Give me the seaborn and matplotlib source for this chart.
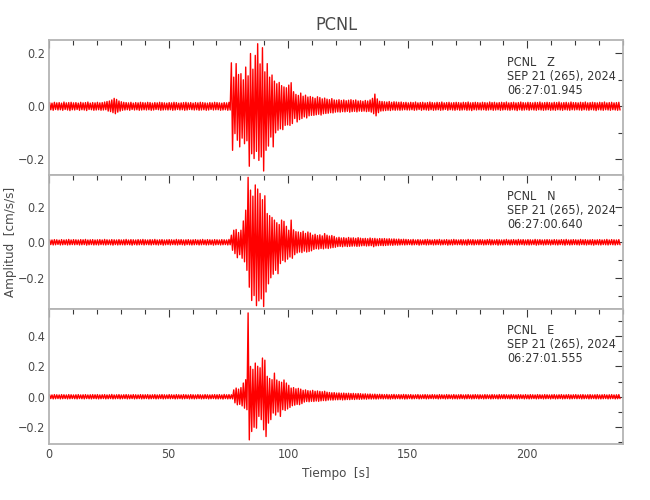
import numpy as np
import pandas as pd
import matplotlib
matplotlib.use("Agg")
import matplotlib.pyplot as plt
import seaborn as sns
from matplotlib.ticker import MultipleLocator, FuncFormatter

# ---------------- data (amplitude envelope per 1-s bin, units of 0.001 cm/s/s) -------------
# Z component
z_up = [14,12,15,13,14,12,16,13,14,15,
        13,14,12,15,13,14,16,12,14,13,
        15,13,14,16,18,20,24,30,26,20,
        17,15,14,13,15,12,14,13,15,14,
        13,15,14,12,14,13,15,14,13,12,
        14,13,15,14,12,13,14,15,13,14,
        12,14,13,15,14,13,12,14,13,15,
        14,13,12,14,13,15,164,110,161,120,
        123,100,148,115,199,140,192,236,160,221,
        130,161,110,118,95,85,90,78,73,70,
        80,89,55,45,41,50,38,42,35,37,
        34,30,36,33,28,31,27,25,29,24,
        23,25,22,24,21,23,25,22,24,20,
        21,19,22,20,24,30,46,28,19,18,
        17,16,18,15,17,16,15,16,14,15,
        13,15,14,16,13,14,15,13,14,16,
        14,13,15,14,16,13,14,15,13,14,
        15,14,13,15,14,16,13,14,15,14,
        13,15,14,13,16,14,15,13,14,15,
        14,16,13,14,15,13,14,16,14,13,
        15,14,13,15,14,16,13,14,15,14,
        13,15,14,16,13,14,15,13,16,14,
        14,13,15,14,16,13,14,15,14,13,
        15,14,16,13,14,15,13,14,15]
z_dn = [-13,-15,-12,-14,-13,-15,-12,-14,-16,-13,
        -14,-12,-15,-13,-14,-16,-12,-13,-15,-14,
        -13,-15,-14,-13,-18,-20,-24,-28,-22,-18,
        -15,-14,-13,-15,-12,-14,-13,-15,-14,-13,
        -14,-13,-15,-14,-12,-13,-15,-14,-13,-14,
        -13,-15,-14,-12,-14,-13,-15,-14,-12,-13,
        -14,-13,-15,-14,-13,-15,-14,-12,-14,-13,
        -13,-15,-14,-13,-15,-14,-166,-103,-128,-153,
        -120,-141,-130,-226,-179,-197,-170,-204,-191,-244,
        -166,-150,-116,-153,-100,-90,-85,-88,-72,-70,
        -72,-65,-46,-59,-50,-46,-40,-44,-36,-34,
        -34,-32,-30,-33,-28,-27,-26,-24,-25,-22,
        -21,-22,-20,-21,-19,-22,-20,-19,-21,-18,
        -19,-18,-20,-19,-22,-28,-36,-24,-18,-17,
        -16,-15,-16,-14,-15,-14,-15,-14,-13,-14,
        -14,-13,-15,-14,-12,-15,-13,-14,-15,-13,
        -15,-14,-13,-15,-14,-12,-15,-13,-14,-15,
        -13,-15,-14,-13,-15,-14,-16,-13,-14,-13,
        -14,-13,-15,-14,-13,-15,-14,-13,-15,-14,
        -13,-14,-15,-13,-14,-16,-13,-15,-14,-13,
        -15,-13,-14,-15,-13,-14,-15,-14,-13,-15,
        -14,-15,-13,-14,-15,-13,-14,-15,-13,-14,
        -13,-14,-15,-13,-14,-15,-13,-14,-16,-13,
        -14,-15,-13,-14,-15,-13,-14,-15,-14]

# N component
n_up = [14,13,15,14,12,15,13,14,16,13,
        15,14,13,15,14,16,13,14,15,13,
        14,15,13,16,14,13,15,14,13,15,
        13,14,16,13,15,14,13,15,14,16,
        14,13,15,14,16,13,14,15,13,14,
        15,14,13,16,14,15,13,14,15,13,
        14,15,13,14,16,13,15,14,13,15,
        14,13,15,14,13,16,40,68,72,55,
        68,120,181,366,294,260,323,300,275,240,
        262,162,150,140,125,110,100,125,118,90,
        68,125,70,60,58,55,62,50,58,52,
        40,45,38,42,36,49,40,35,38,33,
        25,28,24,26,23,27,24,25,22,26,
        23,21,22,20,24,21,22,19,21,20,
        21,19,20,18,19,17,18,16,17,16,
        15,14,16,13,15,14,13,15,16,14,
        13,15,14,16,13,14,15,13,14,16,
        14,13,15,14,13,16,14,15,13,14,
        15,14,13,15,16,14,13,15,14,13,
        14,16,13,14,15,13,16,14,15,13,
        15,14,13,16,14,15,13,14,15,14,
        13,15,14,13,15,14,16,13,14,15,
        14,13,16,14,15,13,14,15,13,14,
        15,13,14,16,13,15,14,13,15]
n_dn = [-13,-15,-14,-12,-15,-14,-13,-15,-14,-13,
        -14,-13,-15,-14,-13,-16,-14,-13,-15,-14,
        -15,-13,-14,-15,-13,-14,-16,-13,-15,-14,
        -14,-15,-13,-14,-16,-13,-15,-14,-13,-15,
        -13,-14,-15,-13,-14,-15,-13,-16,-14,-13,
        -15,-13,-14,-15,-13,-14,-16,-13,-14,-15,
        -14,-13,-15,-14,-13,-15,-14,-13,-16,-14,
        -13,-15,-14,-13,-15,-14,-45,-64,-87,-70,
        -90,-110,-158,-253,-328,-300,-357,-330,-319,-362,
        -280,-234,-200,-180,-158,-177,-120,-102,-110,-95,
        -83,-90,-70,-60,-55,-58,-50,-55,-52,-48,
        -40,-36,-38,-35,-37,-33,-35,-32,-30,-28,
        -24,-23,-25,-22,-24,-23,-22,-21,-23,-22,
        -20,-19,-21,-20,-19,-25,-20,-19,-18,-19,
        -18,-17,-16,-17,-15,-16,-15,-14,-15,-14,
        -13,-15,-14,-13,-16,-14,-13,-15,-14,-13,
        -15,-14,-13,-15,-14,-13,-16,-14,-15,-13,
        -14,-13,-15,-14,-16,-13,-14,-15,-13,-14,
        -13,-15,-14,-13,-15,-14,-13,-16,-14,-15,
        -14,-13,-15,-14,-13,-15,-14,-13,-15,-14,
        -15,-14,-13,-16,-14,-13,-15,-14,-13,-15,
        -13,-14,-15,-13,-14,-16,-13,-15,-14,-13,
        -14,-15,-13,-14,-15,-13,-14,-16,-13,-14,
        -15,-13,-14,-15,-13,-14,-15,-13,-14]

# E component
e_up = [13,12,14,13,12,14,13,12,14,13,
        12,13,14,12,13,14,12,13,14,13,
        14,12,13,14,12,13,15,12,13,14,
        12,13,14,13,12,14,13,12,14,13,
        13,14,12,13,14,12,13,14,13,12,
        14,13,12,14,13,12,14,13,12,14,
        13,12,14,13,12,14,13,12,13,14,
        13,14,12,15,13,14,13,45,57,50,
        60,90,112,550,199,180,221,200,190,254,
        240,134,120,112,155,110,101,95,110,90,
        75,57,60,52,55,50,42,45,40,38,
        42,36,38,35,33,36,30,28,26,27,
        24,25,23,24,22,23,21,22,20,21,
        20,18,19,17,18,16,17,15,16,15,
        14,15,13,14,15,13,14,13,15,14,
        13,14,12,13,14,12,13,14,13,12,
        14,13,12,14,13,12,14,13,12,14,
        12,13,14,12,13,14,12,13,14,13,
        13,12,14,13,12,14,13,12,14,13,
        14,13,12,14,13,12,14,13,12,14,
        12,14,13,12,14,13,12,14,13,12,
        13,14,12,13,14,12,13,14,12,13,
        14,12,13,14,12,13,14,12,13,14,
        12,13,14,12,13,14,12,13,14]
e_dn = [-12,-14,-13,-12,-14,-13,-12,-14,-13,-12,
        -13,-14,-12,-13,-14,-12,-13,-14,-12,-13,
        -14,-13,-12,-14,-13,-12,-14,-13,-12,-14,
        -13,-12,-14,-13,-12,-14,-13,-12,-14,-13,
        -12,-14,-13,-12,-14,-13,-12,-14,-13,-12,
        -13,-12,-14,-13,-12,-14,-13,-12,-14,-13,
        -14,-13,-12,-14,-13,-12,-14,-13,-12,-14,
        -14,-13,-15,-12,-14,-13,-14,-40,-53,-50,
        -60,-75,-85,-283,-228,-200,-206,-129,-150,-217,
        -261,-173,-150,-107,-120,-100,-129,-85,-90,-80,
        -70,-59,-55,-50,-52,-45,-35,-31,-33,-30,
        -31,-28,-30,-27,-25,-26,-22,-21,-22,-20,
        -20,-19,-21,-20,-18,-19,-17,-18,-16,-17,
        -16,-15,-16,-14,-15,-14,-15,-14,-13,-14,
        -13,-14,-15,-13,-14,-12,-14,-13,-15,-14,
        -12,-14,-13,-12,-14,-13,-12,-14,-13,-12,
        -13,-12,-14,-13,-12,-14,-13,-12,-14,-13,
        -14,-13,-12,-14,-13,-12,-14,-13,-12,-14,
        -12,-14,-13,-12,-14,-13,-12,-14,-13,-12,
        -13,-12,-14,-13,-12,-14,-13,-12,-14,-13,
        -14,-13,-12,-14,-13,-12,-14,-13,-12,-14,
        -12,-14,-13,-12,-14,-13,-12,-14,-13,-12,
        -13,-12,-14,-13,-12,-14,-13,-12,-14,-13,
        -14,-13,-12,-14,-13,-12,-14,-13,-12]

components = ["Z", "N", "E"]
start_times = ["06:27:01.945", "06:27:00.640", "06:27:01.555"]
station = "PCNL"
date_text = "SEP 21 (265), 2024"
y_limits = [(-0.259, 0.250), (-0.373, 0.379), (-0.310, 0.579)]
y_major = [[-0.2, 0.0, 0.2], [-0.2, 0.0, 0.2], [-0.2, 0.0, 0.2, 0.4]]
x_ticks = [0, 50, 100, 150, 200]
x_limits = (0, 240)

# ---------------- build long table ----------------
frames = []
for comp, up, dn in zip(components, [z_up, n_up, e_up], [z_dn, n_dn, e_dn]):
    assert len(up) == len(dn)
    t = []
    a = []
    for i, (u, d) in enumerate(zip(up, dn)):
        t += [i + 0.25, i + 0.75]
        a += [u / 1000.0, d / 1000.0]
    frames.append(pd.DataFrame({"t": t, "amp": a, "comp": comp}))
df = pd.concat(frames, ignore_index=True)

# ---------------- plot ----------------
sns.set_style("white")
plt.rcParams["font.family"] = ["DejaVu Sans"]
plt.rcParams["font.stretch"] = "condensed"
plt.rcParams["axes.unicode_minus"] = True

txt_color = "#4a4a4a"
spine_color = "#b4b4b4"
tick_color = "#3a3a3a"

yfmt = FuncFormatter(lambda v, pos: f"{v:.1f}".replace("-", "\u2212"))

fig = plt.figure(figsize=(6.5, 5.0), dpi=100)
left, right = 49 / 650, 623 / 650
edges = [40, 175, 308.5, 444]
axes = []
for k in range(3):
    top = 1 - edges[k] / 500
    bot = 1 - edges[k + 1] / 500
    ax = fig.add_axes([left, bot, right - left, top - bot])
    axes.append(ax)

for k, (ax, comp) in enumerate(zip(axes, components)):
    sub = df[df["comp"] == comp]
    sns.lineplot(data=sub, x="t", y="amp", ax=ax, color="#ff0000", lw=1.0,
                 estimator=None, sort=False, legend=False)
    ax.set_xlim(*x_limits)
    ax.set_ylim(*y_limits[k])
    ax.set_yticks(y_major[k])
    ax.yaxis.set_minor_locator(MultipleLocator(0.1))
    ax.yaxis.set_major_formatter(yfmt)
    ax.set_xticks(x_ticks)
    ax.xaxis.set_minor_locator(MultipleLocator(10))
    ax.tick_params(which="both", direction="in", top=True, right=True,
                   color=tick_color, labelcolor=txt_color, labelsize=9, width=0.8, pad=3)
    ax.tick_params(which="major", length=6)
    ax.tick_params(which="minor", length=3.5)
    ax.set_xlabel("")
    ax.set_ylabel("")
    if k < 2:
        ax.tick_params(labelbottom=False)
    for s in ax.spines.values():
        s.set_color(spine_color)
        s.set_linewidth(1.3)
    ax.text(0.798, 0.885, f"{station}   {comp}\n{date_text}\n{start_times[k]}",
            transform=ax.transAxes, ha="left", va="top", fontsize=9,
            color="#333333", linespacing=1.1)

axes[0].set_title(station, fontsize=13, color=txt_color, pad=7)
axes[2].set_xlabel("Tiempo  [s]", fontsize=9.5, color=txt_color, labelpad=4)
fig.text(11 / 650, 1 - 242 / 500, "Amplitud  [cm/s/s]", rotation=90, ha="center",
         va="center", fontsize=9.5, color=txt_color)

fig.savefig("out.png", dpi=100)
